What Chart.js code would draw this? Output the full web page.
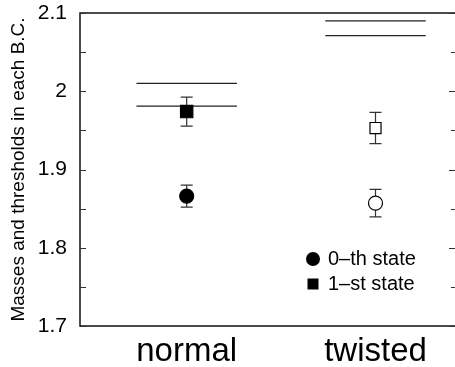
<!DOCTYPE html>
<html>
<head>
<meta charset="utf-8">
<script src="https://cdn.jsdelivr.net/npm/chart.js@4/dist/chart.umd.min.js"></script>
<style>
  html, body { margin: 0; padding: 0; background: #fff; }
  canvas { display: block; }
</style>
</head>
<body>
<canvas id="massChart" width="455" height="367"></canvas>
<script>
// Data
const categories = ['normal', 'twisted'];
const groundMass = [1.866, 1.857];
const groundErr = [0.014, 0.0175];
const excitedMass = [1.974, 1.953];
const excitedErr = [0.0185, 0.020];
const thresholdLow = [1.981, 2.071];
const thresholdHigh = [2.010, 2.090];
const yTicks = [1.7, 1.8, 1.9, 2.0, 2.1];

const HALF = 0.266; // half width of threshold segments, in x units
const FONT = "'Liberation Sans', Arial, sans-serif";

function segments(values) {
    const pts = [];
    values.forEach((v, i) => {
        pts.push({x: i + 1 - HALF, y: v});
        pts.push({x: i + 1 + HALF, y: v});
        pts.push({x: i + 1.5, y: null});
    });
    return pts;
}

// error bars drawn under the markers
const errorBars = {
    id: 'errorBars',
    beforeDatasetsDraw(chart) {
        const {ctx, scales: {x, y}} = chart;
        ctx.save();
        ctx.strokeStyle = '#333';
        ctx.lineWidth = 1.2;
        chart.data.datasets.forEach(ds => {
            if (!ds.errors) return;
            ds.data.forEach((p, i) => {
                const px = x.getPixelForValue(p.x);
                const top = y.getPixelForValue(p.y + ds.errors[i]);
                const bot = y.getPixelForValue(p.y - ds.errors[i]);
                ctx.beginPath();
                ctx.moveTo(px, top); ctx.lineTo(px, bot);
                ctx.moveTo(px - 6, top); ctx.lineTo(px + 6, top);
                ctx.moveTo(px - 6, bot); ctx.lineTo(px + 6, bot);
                ctx.stroke();
            });
        });
        ctx.restore();
    }
};

// frame with inward ticks
const frame = {
    id: 'frame',
    afterDatasetsDraw(chart) {
        const {ctx, chartArea: a, scales: {y}} = chart;
        ctx.save();
        ctx.strokeStyle = '#111';
        ctx.lineWidth = 1.5;
        ctx.beginPath();
        ctx.moveTo(a.right + 2, a.top); ctx.lineTo(a.left, a.top);
        ctx.lineTo(a.left, a.bottom); ctx.lineTo(a.right + 2, a.bottom);
        ctx.stroke();
        ctx.lineWidth = 1;
        ctx.strokeStyle = '#333';
        y.ticks.forEach(t => {
            const py = Math.round(y.getPixelForValue(t.value)) + 0.5;
            const major = Math.round(t.value * 100) % 10 === 0;
            ctx.beginPath();
            ctx.moveTo(a.left, py); ctx.lineTo(a.left + 6, py);
            ctx.moveTo(a.right, py); ctx.lineTo(a.right - (major ? 6 : 4), py);
            ctx.stroke();
        });
        ctx.restore();
    }
};

// legend inside the plot, lower right
const innerLegend = {
    id: 'innerLegend',
    afterDraw(chart) {
        const {ctx, chartArea: a} = chart;
        const items = chart.data.datasets.filter(ds => ds.legend);
        ctx.save();
        ctx.fillStyle = '#000';
        ctx.font = '20px ' + FONT;
        ctx.textBaseline = 'middle';
        items.forEach((ds, i) => {
            const cx = a.left + 233;
            const cy = a.top + 246 + i * 25;
            ctx.beginPath();
            if (ds.pointStyle === 'circle') {
                ctx.arc(cx, cy, 7, 0, Math.PI * 2);
            } else {
                ctx.rect(cx - 5.5, cy - 5.5, 11, 11);
            }
            ctx.fill();
            ctx.fillText(ds.label, cx + 15, cy);
        });
        ctx.restore();
    }
};

new Chart(document.getElementById('massChart'), {
    type: 'scatter',
    data: {
        datasets: [
            {
                label: '0\u2013th state',
                legend: true,
                data: groundMass.map((v, i) => ({x: i + 1, y: v})),
                errors: groundErr,
                pointStyle: 'circle',
                pointRadius: 7,
                backgroundColor: ['#000', '#fff'],
                borderColor: '#000',
                borderWidth: 1.2
            },
            {
                label: '1\u2013st state',
                legend: true,
                data: excitedMass.map((v, i) => ({x: i + 1, y: v})),
                errors: excitedErr,
                pointStyle: 'rect',
                pointRadius: [8.7, 7.8],
                backgroundColor: ['#000', '#fff'],
                borderColor: '#000',
                borderWidth: 1.2
            },
            {
                label: 'lower threshold',
                type: 'line',
                data: segments(thresholdLow),
                borderColor: '#222',
                borderWidth: 1.3,
                pointRadius: 0,
                spanGaps: false
            },
            {
                label: 'upper threshold',
                type: 'line',
                data: segments(thresholdHigh),
                borderColor: '#222',
                borderWidth: 1.3,
                pointRadius: 0,
                spanGaps: false
            }
        ]
    },
    options: {
        responsive: false,
        animation: false,
        layout: { autoPadding: false, padding: { top: 13, right: 0, left: 0, bottom: 0 } },
        plugins: {
            legend: { display: false },
            tooltip: { enabled: false }
        },
        scales: {
            x: {
                type: 'linear',
                min: 0.435,
                max: 2.421,
                grid: { display: false },
                border: { display: false },
                afterBuildTicks(scale) {
                    scale.ticks = categories.map((c, i) => ({value: i + 1}));
                },
                afterFit(scale) {
                    scale.height = 41;
                    scale.paddingLeft = 0;
                    scale.paddingRight = 0;
                },
                ticks: {
                    padding: -2,
                    color: '#000',
                    font: { family: FONT, size: 33 },
                    callback: v => categories[v - 1]
                }
            },
            y: {
                min: yTicks[0],
                max: yTicks[yTicks.length - 1],
                grid: { display: false },
                border: { display: false },
                afterFit(scale) {
                    scale.width = 80;
                    scale.paddingTop = 0;
                    scale.paddingBottom = 0;
                },
                title: {
                    display: true,
                    text: 'Masses and thresholds in each B.C.',
                    color: '#000',
                    font: { family: FONT, size: 19 },
                    padding: { top: 7, bottom: 0 }
                },
                ticks: {
                    stepSize: 0.05,
                    padding: 5,
                    color: '#000',
                    font: { family: FONT, size: 21 },
                    callback: v => {
                        const r = Math.round(v * 100) / 100;
                        return yTicks.some(t => Math.abs(t - r) < 1e-6) ? String(r) : '';
                    }
                }
            }
        }
    },
    plugins: [errorBars, frame, innerLegend]
});
</script>
</body>
</html>
